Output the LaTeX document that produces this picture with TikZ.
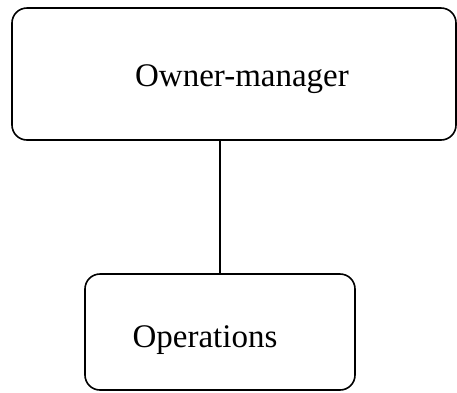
\documentclass[tikz,border=0pt]{standalone}
\usepackage{fontspec}
\setmainfont{Liberation Serif}
\usetikzlibrary{positioning}

\tikzset{
    kasten/.style={draw,line width=1.6pt,rounded corners=15pt,inner sep=0pt},
    schrift/.style={font=\fontsize{33}{40}\selectfont,inner sep=0pt}
}

\begin{document}
\begin{tikzpicture}[x=1pt,y=-1pt]
        \useasboundingbox (0,0) rectangle (457,392);

        % Owner-manager
        \node[kasten,minimum width=444pt,minimum height=132pt] (owner) at (234,74) {};
        \node[schrift] (ownertext) at ([xshift=8pt,yshift=-5pt]owner.center) {Owner-manager};

        % Operations
        \node[kasten,minimum width=270pt,minimum height=116pt] (ops) at (220,332) {};
        \node[schrift] (opstext) at ([xshift=-15pt,yshift=-8pt]ops.center) {Operations};

        \draw[line width=1.6pt] (owner.south -| ops.north) -- (ops.north);
    \end{tikzpicture}
\end{document}
